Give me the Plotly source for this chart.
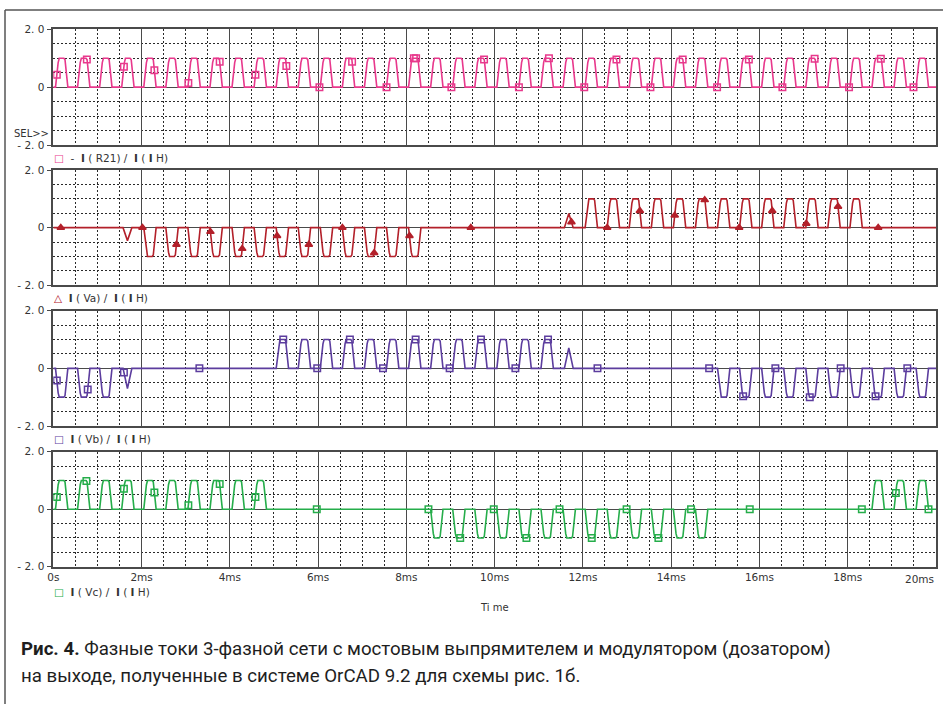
import numpy as np
import plotly.graph_objects as go

# ---------------- data ----------------
TIME_RANGE_MS = [0, 20]
Y_RANGE = [-2, 2]

# centres of the PWM current pulses (ms)
PULSE_CENTERS_MS = [0.19, 0.69, 1.19, 1.69, 2.19, 2.69, 3.19, 3.69, 4.19, 4.69,
                    5.19, 5.69, 6.19, 6.69, 7.19, 7.69, 8.19, 8.69, 9.19, 9.69,
                    10.19, 10.69, 11.19, 11.69, 12.19, 12.69, 13.19, 13.69, 14.19, 14.69,
                    15.19, 15.69, 16.19, 16.69, 17.19, 17.69, 18.19, 18.69, 19.19, 19.69]

# pulse amplitudes of each trace (normalised to I(IH))
AMP_R21 = [1, 1, 1, 1, 1, 1, 1, 1, 1, 1,
           1, 1, 1, 1, 1, 1, 1, 1, 1, 1,
           1, 1, 1, 1, 1, 1, 1, 1, 1, 1,
           1, 1, 1, 1, 1, 1, 1, 1, 1, 1]
AMP_VA = [0, 0, 0, -0.45, -1, -1, -1, -1, -1, -1,
          -1, -1, -1, -1, -1, -1, -1, 0, 0, 0,
          0, 0, 0, 0.49, 1, 1, 1, 1, 1, 1,
          1, 1, 1, 1, 1, 1, 1, 0, 0, 0]
AMP_VB = [-1, -1, -1, -0.7, 0, 0, 0, 0, 0, 0,
          1, 1, 1, 1, 1, 1, 1, 1, 1, 1,
          1, 1, 1, 0.71, 0, 0, 0, 0, 0, 0,
          -1, -1, -1, -1, -1, -1, -1, -1, -1, -1]
AMP_VC = [1, 1, 1, 1, 1, 1, 1, 1, 1, 1,
          0, 0, 0, 0, 0, 0, 0, -1, -1, -1,
          -1, -1, -1, -1, -1, -1, -1, -1, -1, -1,
          0, 0, 0, 0, 0, 0, 0, 1, 1, 1]

# times (ms) at which OrCAD placed the trace symbols
MARK_R21_MS = [0.08, 0.76, 1.60, 2.29, 3.06, 3.77, 4.58, 5.28, 6.03, 6.77, 7.55, 8.17, 8.22,
               9.02, 9.76, 10.55, 11.23, 12.03, 12.76, 13.53, 14.26, 15.04, 15.76, 16.52,
               17.25, 18.03, 18.75, 19.49]
MARK_VA_MS = [0.17, 2.02, 2.79, 3.56, 4.28, 5.07, 5.79, 6.55, 7.27, 8.07, 9.46, 11.74, 12.55,
              13.29, 14.08, 14.76, 15.54, 16.29, 17.06, 17.78, 18.69]
MARK_VB_MS = [0.08, 0.78, 1.60, 3.31, 5.21, 5.98, 6.72, 7.47, 8.21, 8.98, 9.69, 10.47, 11.21,
              12.33, 14.86, 15.63, 16.36, 17.14, 17.84, 18.63, 19.35]
MARK_VC_MS = [0.08, 0.75, 1.60, 2.29, 3.06, 3.77, 4.58, 5.97, 8.50, 9.22, 9.98, 10.72, 11.47,
              12.20, 12.99, 13.71, 14.45, 15.78, 18.32, 19.09, 19.83]

X_TICK_VALS = [0, 2, 4, 6, 8, 10, 12, 14, 16, 18, 20]
X_TICK_TEXT = ["0s", "2ms", "4ms", "6ms", "8ms", "10ms", "12ms", "14ms", "16ms", "18ms", "20ms"]
Y_TICK_VALS = [-2, 0, 2]
Y_TICK_TEXT = ["- 2. 0", "0", "2. 0"]

TRACE_NAMES = ["-  <b>I</b> ( R21) /  <b>I</b> ( <b>I</b> H)", "<b>I</b> ( Va) /  <b>I</b> ( <b>I</b> H)",
               "<b>I</b> ( Vb) /  <b>I</b> ( <b>I</b> H)", "<b>I</b> ( Vc) /  <b>I</b> ( <b>I</b> H)"]

# ---------------- styling ----------------
W, H = 943, 704
COLORS = ["#e8388c", "#b3202a", "#5c3d9e", "#25ad4a"]
SYMBOLS = ["square-open", "triangle-up", "square-open", "square-open"]
LEGEND_GLYPH = ["□", "△", "□", "□"]
GRID_DARK = "#4a4a4a"
TEXT_COL = "#333333"
TICK_FONT = dict(family="DejaVu Sans", size=10.5, color=TEXT_COL)

# pulse outline (offset from centre in ms, fraction of amplitude)
FULL_SHAPE = [(-0.14, 0.0), (-0.08, 0.85), (-0.055, 1.0), (0.05, 1.0), (0.075, 0.95), (0.14, 0.0)]
PART_SHAPE = [(-0.11, 0.0), (-0.01, 1.0), (0.09, 0.0)]


def build_trace(centres, amps):
    t, y = [TIME_RANGE_MS[0]], [0.0]
    for c, a in zip(centres, amps):
        if a == 0:
            continue
        shape = FULL_SHAPE if abs(a) >= 0.9 else PART_SHAPE
        for dt, f in shape:
            t.append(c + dt)
            y.append(a * f)
    t.append(TIME_RANGE_MS[1])
    y.append(0.0)
    return np.array(t), np.array(y)


def px_x(px):
    return px / W


def px_y(py):
    return 1 - py / H


X_DOMAIN = [px_x(53.3), px_x(936)]
PANEL_PX = [(29.3, 145.0), (170.0, 285.3), (310.7, 426.0), (451.7, 566.7)]
LEGEND_Y_PX = [158, 298, 439, 592]

fig = go.Figure()
series = [(AMP_R21, MARK_R21_MS), (AMP_VA, MARK_VA_MS), (AMP_VB, MARK_VB_MS), (AMP_VC, MARK_VC_MS)]

for i, (amps, marks) in enumerate(series):
    t, y = build_trace(PULSE_CENTERS_MS, amps)
    xa = "x" if i == 0 else f"x{i+1}"
    ya = "y" if i == 0 else f"y{i+1}"
    fig.add_trace(go.Scatter(x=t, y=y, mode="lines", line=dict(color=COLORS[i], width=1.6),
                             xaxis=xa, yaxis=ya, showlegend=False, hoverinfo="skip"))
    mt = np.array(marks)
    my = np.interp(mt, t, y)
    fig.add_trace(go.Scatter(x=mt, y=my, mode="markers",
                             marker=dict(symbol=SYMBOLS[i], size=6.5, color=COLORS[i],
                                         line=dict(color=COLORS[i], width=1.5)),
                             xaxis=xa, yaxis=ya, showlegend=False, hoverinfo="skip"))

layout = dict(width=W, height=H, margin=dict(l=0, r=0, t=0, b=0),
              paper_bgcolor="white", plot_bgcolor="white", showlegend=False)

# the last label ("20ms") is drawn right-aligned to the frame, as in the printout
x_text = X_TICK_TEXT[:-1] + [""]

for i, (top, bot) in enumerate(PANEL_PX):
    xk = "xaxis" if i == 0 else f"xaxis{i+1}"
    yk = "yaxis" if i == 0 else f"yaxis{i+1}"
    ya = "y" if i == 0 else f"y{i+1}"
    xa = "x" if i == 0 else f"x{i+1}"
    layout[xk] = dict(domain=X_DOMAIN, anchor=ya, range=TIME_RANGE_MS, automargin=False,
                      tickmode="array", tickvals=X_TICK_VALS, ticktext=x_text,
                      showticklabels=(i == 3), ticks="",
                      tickfont=TICK_FONT,
                      showgrid=True, gridcolor=GRID_DARK, gridwidth=1.2, zeroline=False,
                      showline=True, mirror=True, linecolor=GRID_DARK, linewidth=1.5,
                      minor=dict(tick0=0, dtick=0.5, showgrid=True, gridcolor="#2a2a2a",
                                 griddash="2px,2px", gridwidth=1, ticks=""))
    layout[yk] = dict(domain=[px_y(bot), px_y(top)], anchor=xa, range=Y_RANGE, automargin=False,
                      tickmode="array", tickvals=Y_TICK_VALS, ticktext=Y_TICK_TEXT,
                      ticks="outside", ticklen=5, tickcolor=GRID_DARK, tickwidth=1.2,
                      tickfont=TICK_FONT,
                      showgrid=True, gridcolor=GRID_DARK, gridwidth=1.2, zeroline=False,
                      showline=True, mirror=True, linecolor=GRID_DARK, linewidth=1.5,
                      minor=dict(tick0=0, dtick=0.5, showgrid=True, gridcolor="#2a2a2a",
                                 griddash="2px,2px", gridwidth=1, ticks=""))

annotations = []
for i in range(4):
    annotations.append(dict(
        xref="paper", yref="paper", x=px_x(52), y=px_y(LEGEND_Y_PX[i]),
        xanchor="left", yanchor="middle", showarrow=False,
        text=f"<span style='color:{COLORS[i]}'>{LEGEND_GLYPH[i]}</span>  {TRACE_NAMES[i]}",
        font=dict(family="DejaVu Sans", size=10.5, color=TEXT_COL)))

annotations.append(dict(xref="x4", yref="paper", x=X_TICK_VALS[-1], y=px_y(579),
                        xanchor="right", yanchor="middle", showarrow=False,
                        text=X_TICK_TEXT[-1], font=TICK_FONT))
annotations.append(dict(xref="paper", yref="paper", x=px_x(51), y=px_y(133),
                        xanchor="right", yanchor="middle", showarrow=False, text="SEL>>",
                        font=dict(family="DejaVu Sans", size=10, color=TEXT_COL)))
annotations.append(dict(xref="paper", yref="paper", x=px_x(494), y=px_y(607),
                        xanchor="center", yanchor="middle", showarrow=False, text="Ti me",
                        font=dict(family="DejaVu Sans", size=10, color=TEXT_COL)))

CAPTION_1 = "<b>Рис. 4.</b> Фазные токи 3‑фазной сети с мостовым выпрямителем и модулятором (дозатором)"
CAPTION_2 = "на выходе, полученные в системе OrCAD 9.2 для схемы рис. 1б."
annotations.append(dict(xref="paper", yref="paper", x=px_x(19), y=px_y(649),
                        xanchor="left", yanchor="middle", showarrow=False, text=CAPTION_1,
                        font=dict(family="Roboto", size=18.7, color="#1e1e1e")))
annotations.append(dict(xref="paper", yref="paper", x=px_x(19), y=px_y(676),
                        xanchor="left", yanchor="middle", showarrow=False, text=CAPTION_2,
                        font=dict(family="Roboto", size=18.7, color="#1e1e1e")))
layout["annotations"] = annotations

layout["shapes"] = [
    dict(type="line", xref="paper", yref="paper", x0=px_x(5), x1=1, y0=px_y(10), y1=px_y(10),
         line=dict(color="#555555", width=1.5)),
    dict(type="line", xref="paper", yref="paper", x0=px_x(5), x1=px_x(5), y0=px_y(10), y1=0,
         line=dict(color="#555555", width=1.5)),
]

fig.update_layout(**layout)
fig.write_html("out.html", config={"displayModeBar": False},
               post_script="document.body.style.margin='0';document.body.style.overflow='hidden';")
